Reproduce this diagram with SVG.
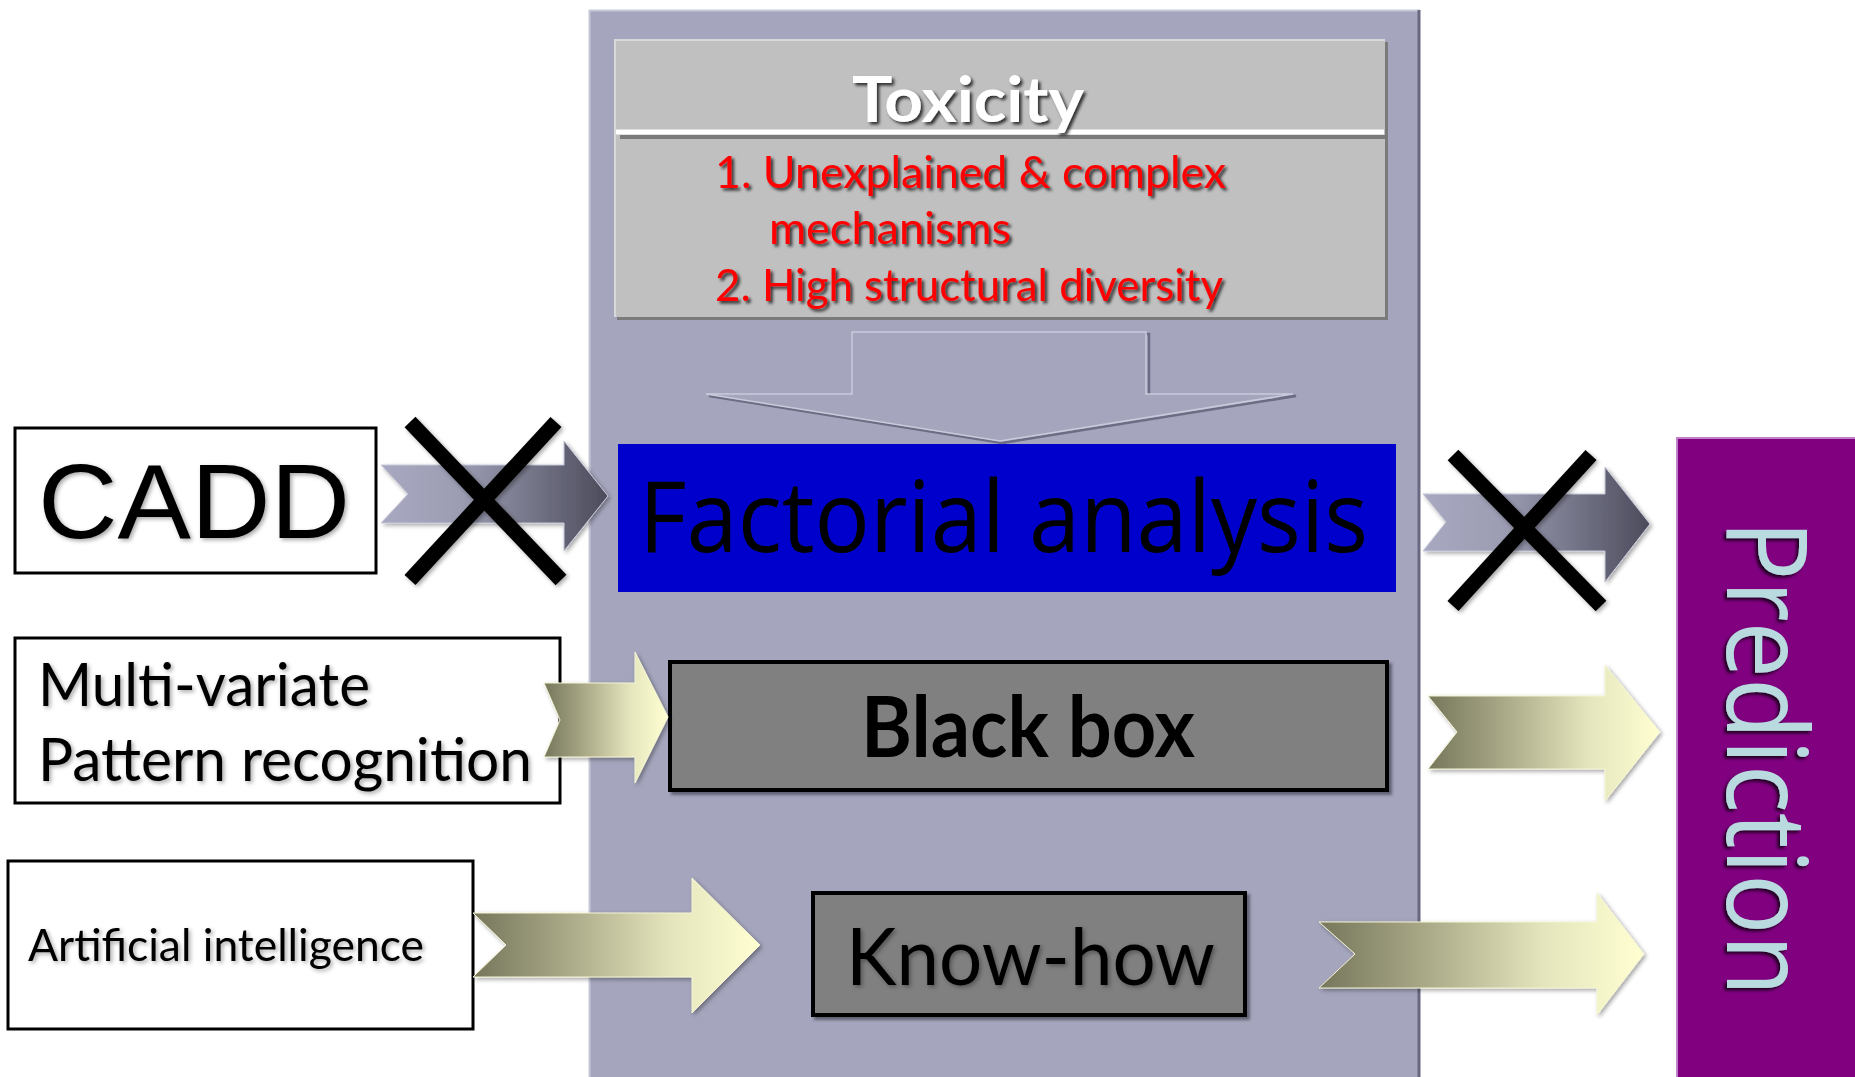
<svg xmlns="http://www.w3.org/2000/svg" width="1855" height="1077" viewBox="0 0 1855 1077">
  <defs>
    <linearGradient id="gradGrey" x1="0" y1="0" x2="1" y2="0">
      <stop offset="0" stop-color="#A8A9C0"/>
      <stop offset="0.35" stop-color="#9C9DB3"/>
      <stop offset="1" stop-color="#4B4B5B"/>
    </linearGradient>
    <linearGradient id="gradOlive" x1="0" y1="0" x2="1" y2="0">
      <stop offset="0" stop-color="#76765C"/>
      <stop offset="0.3" stop-color="#A5A584"/>
      <stop offset="0.7" stop-color="#E6E6BE"/>
      <stop offset="1" stop-color="#FFFFD2"/>
    </linearGradient>
    <filter id="shadowDark" x="-10%" y="-10%" width="120%" height="130%">
      <feDropShadow dx="2.5" dy="2.5" stdDeviation="1.5" flood-color="#000" flood-opacity="0.75"/>
    </filter>
    <filter id="shadowSoft" x="-10%" y="-10%" width="120%" height="130%">
      <feDropShadow dx="2" dy="2" stdDeviation="2" flood-color="#000" flood-opacity="0.35"/>
    </filter>
    <filter id="shadowBox" x="-5%" y="-5%" width="110%" height="115%">
      <feDropShadow dx="3" dy="3" stdDeviation="1.5" flood-color="#303040" flood-opacity="0.6"/>
    </filter>
  </defs>
  <style>
    .calibri { font-family: Lato, "Open Sans", "Liberation Sans", sans-serif; }
    .segoe { font-family: "Open Sans", "Noto Sans", "Liberation Sans", sans-serif; }
    .arial { font-family: "Liberation Sans", Arial, sans-serif; }
    .inbox { fill: #FFFFFF; stroke: #000000; stroke-width: 3; }
    .greybox { fill: #808080; stroke: #000000; stroke-width: 4; }
    .cross { stroke: #000000; stroke-width: 15; stroke-linecap: butt; }
    .arrowOlive { fill: url(#gradOlive); stroke: #F4F4D4; stroke-width: 1; }
    .arrowGrey { fill: url(#gradGrey); stroke: #C8C9DA; stroke-width: 1; }
  </style>

  <rect width="1855" height="1077" fill="#FFFFFF"/>

  <!-- central panel -->
  <g id="panel">
    <rect x="589" y="10" width="831" height="1075" fill="#A5A6BD"/>
    <line x1="589.5" y1="10" x2="589.5" y2="1077" stroke="#C6C7D8" stroke-width="2"/>
    <line x1="589" y1="10.5" x2="1420" y2="10.5" stroke="#C6C7D8" stroke-width="2"/>
    <line x1="1419" y1="10" x2="1419" y2="1077" stroke="#686880" stroke-width="3"/>
  </g>

  <!-- toxicity box -->
  <g id="toxicity">
    <rect x="617" y="42" width="771" height="278" fill="#7A7A7A"/>
    <rect x="614" y="39" width="771" height="278" fill="#C0C0C0"/>
    <line x1="614" y1="40" x2="1385" y2="40" stroke="#D8D8D8" stroke-width="2"/>
    <line x1="615" y1="39" x2="615" y2="317" stroke="#D8D8D8" stroke-width="2"/>
    <line x1="620" y1="137" x2="1388" y2="137" stroke="#7A7A7A" stroke-width="4"/>
    <line x1="616" y1="132" x2="1384" y2="132" stroke="#FFFFFF" stroke-width="5"/>
    <text x="968" y="122" text-anchor="middle" class="calibri" font-size="63" font-weight="bold" fill="#FFFFFF" textLength="232" lengthAdjust="spacingAndGlyphs" filter="url(#shadowDark)">Toxicity</text>
    <g class="calibri" font-size="44" fill="#FF0000" filter="url(#shadowDark)">
      <text x="715" y="188" textLength="511" lengthAdjust="spacingAndGlyphs">1. Unexplained &amp; complex</text>
      <text x="769" y="244" textLength="242" lengthAdjust="spacingAndGlyphs">mechanisms</text>
      <text x="715" y="301" textLength="508" lengthAdjust="spacingAndGlyphs">2. High structural diversity</text>
    </g>
  </g>

  <!-- factorial analysis -->
  <g id="factorial">
    <rect x="618" y="444" width="778" height="148" fill="#0000CC"/>
    <text x="639" y="552" class="segoe" font-size="98" fill="#000000" textLength="729" lengthAdjust="spacingAndGlyphs">Factorial analysis</text>
  </g>

  <!-- CADD -->
  <g id="cadd">
    <rect class="inbox" x="15" y="428" width="361" height="145"/>
    <text x="38" y="538" class="arial" font-size="106" fill="#000000" textLength="312" lengthAdjust="spacingAndGlyphs" filter="url(#shadowSoft)">CADD</text>
  </g>

  <!-- multi-variate pattern recognition -->
  <g id="multivariate">
    <rect class="inbox" x="15" y="638" width="545" height="165"/>
    <g class="calibri" font-size="60" fill="#000000" filter="url(#shadowSoft)">
      <text x="38" y="706" textLength="332" lengthAdjust="spacingAndGlyphs">Multi-variate</text>
      <text x="38" y="781" textLength="494" lengthAdjust="spacingAndGlyphs">Pattern recognition</text>
    </g>
  </g>

  <!-- artificial intelligence -->
  <g id="ai">
    <rect class="inbox" x="8" y="861" width="465" height="168"/>
    <text x="28" y="961" class="calibri" font-size="44" fill="#000000" textLength="396" lengthAdjust="spacingAndGlyphs" filter="url(#shadowSoft)">Artificial intelligence</text>
  </g>

  <!-- black box -->
  <g id="blackbox">
    <rect class="greybox" x="670" y="662" width="717" height="128" filter="url(#shadowBox)"/>
    <text x="861" y="757" class="calibri" font-size="84" font-weight="bold" fill="#000000" textLength="334" lengthAdjust="spacingAndGlyphs">Black box</text>
  </g>

  <!-- know-how -->
  <g id="knowhow">
    <rect class="greybox" x="813" y="893" width="432" height="122" filter="url(#shadowBox)"/>
    <text x="846" y="985" class="calibri" font-size="80" fill="#000000" textLength="369" lengthAdjust="spacingAndGlyphs" filter="url(#shadowSoft)">Know-how</text>
  </g>

  <!-- prediction -->
  <g id="prediction">
    <rect x="1676" y="437" width="185" height="645" fill="#800080"/>
    <line x1="1677" y1="437" x2="1677" y2="1077" stroke="#C080C8" stroke-width="2"/>
    <line x1="1676" y1="438" x2="1855" y2="438" stroke="#C080C8" stroke-width="2"/>
    <text transform="translate(1727,520) rotate(90)" x="0" y="0" class="segoe" font-size="112" fill="#B9DBE0" textLength="476" lengthAdjust="spacingAndGlyphs" filter="url(#shadowDark)">Prediction</text>
  </g>

  <!-- connectors, drawn over the node borders they start from -->
  <g id="connectors">
    <!-- down arrow from toxicity into factorial analysis -->
    <polygon points="855,334 1149,334 1149,396 1296,396 1002,443 709,396 855,396" fill="#A5A6BD" stroke="#6C6D84" stroke-width="2.5"/>
    <polygon points="852,332 1146,332 1146,394 1293,394 1000,441 706,394 852,394" fill="#A5A6BD" stroke="#C9CADB" stroke-width="1.5"/>

    <!-- CADD to factorial analysis (crossed out) -->
    <polygon class="arrowGrey" filter="url(#shadowSoft)" points="381,465 564,465 564,441 608,496 564,551 564,523 381,523 408,494"/>
    <g filter="url(#shadowSoft)">
      <line class="cross" x1="410" y1="422" x2="561" y2="580"/>
      <line class="cross" x1="556" y1="422" x2="410" y2="580"/>
    </g>

    <!-- factorial analysis to prediction (crossed out) -->
    <polygon class="arrowGrey" filter="url(#shadowSoft)" points="1423,494 1605,494 1605,467 1650,524 1605,582 1605,551 1423,551 1446,522"/>
    <g filter="url(#shadowSoft)">
      <line class="cross" x1="1453" y1="455" x2="1601" y2="606"/>
      <line class="cross" x1="1591" y1="455" x2="1453" y2="606"/>
    </g>

    <!-- multi-variate to black box -->
    <polygon class="arrowOlive" filter="url(#shadowSoft)" points="544,683 635,683 635,652 668,717 635,783 635,757 544,757 560,720"/>
    <!-- black box to prediction -->
    <polygon class="arrowOlive" filter="url(#shadowSoft)" points="1428,696 1605,696 1605,665 1660,732 1605,801 1605,769 1428,769 1457,732"/>
    <!-- artificial intelligence to know-how -->
    <polygon class="arrowOlive" filter="url(#shadowSoft)" points="473,913 692,913 692,878 760,945 692,1013 692,977 473,977 506,945"/>
    <!-- know-how to prediction -->
    <polygon class="arrowOlive" filter="url(#shadowSoft)" points="1319,922 1597,922 1597,893 1644,954 1597,1015 1597,988 1319,988 1355,954"/>
  </g>
</svg>
